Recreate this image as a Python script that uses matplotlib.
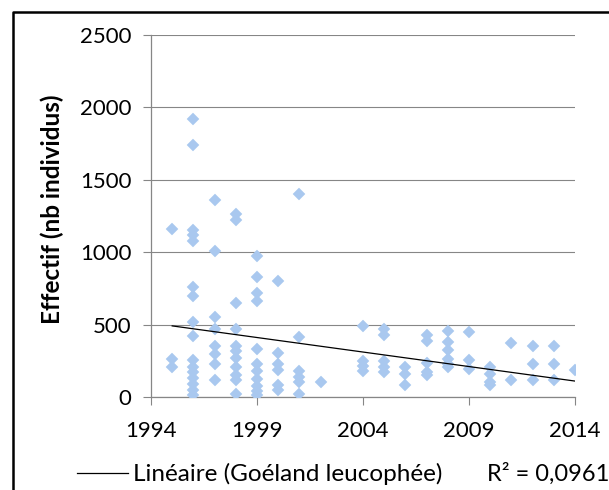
import matplotlib
matplotlib.use("Agg")
import matplotlib.pyplot as plt
from matplotlib.lines import Line2D

plt.rcParams['font.family'] = ['Lato', 'DejaVu Sans']

# Comptages annuels (Goéland leucophée), un point par site
years = (
    [1995] * 3
    + [1996] * 16
    + [1997] * 8
    + [1998] * 11
    + [1999] * 11
    + [2000] * 6
    + [2001] * 6
    + [2002] * 1
    + [2004] * 4
    + [2005] * 5
    + [2006] * 3
    + [2007] * 5
    + [2008] * 6
    + [2009] * 3
    + [2010] * 4
    + [2011] * 2
    + [2012] * 3
    + [2013] * 3
    + [2014] * 1
)
effectif = [
    1160, 260, 210,
    1920, 1740, 1155, 1120, 1075, 760, 695, 515, 420, 255, 210, 170, 130, 90, 50, 15,
    1360, 1010, 550, 470, 350, 295, 230, 115,
    1265, 1225, 650, 470, 355, 320, 270, 210, 150, 115, 20,
    975, 830, 715, 665, 330, 230, 180, 125, 75, 40, 15,
    800, 305, 225, 185, 85, 45,
    1400, 415, 180, 140, 105, 20,
    105,
    490, 250, 215, 180,
    470, 425, 250, 210, 170,
    205, 160, 85,
    425, 385, 235, 175, 155,
    455, 380, 325, 265, 225, 205,
    450, 255, 195,
    205, 160, 105, 80,
    375, 120,
    350, 225, 120,
    350, 225, 120,
    185,
]

# Courbe de tendance linéaire (extrémités)
trend_years = [1995, 2014]
trend_values = [491, 110]
r2_text = 'R² = 0,0961'

x_ticks = [1994, 1999, 2004, 2009, 2014]
y_ticks = [0, 500, 1000, 1500, 2000, 2500]

W, H = 609, 490
fig = plt.figure(figsize=(W / 100, H / 100), dpi=100)
ax = fig.add_axes([151 / W, 1 - 397 / H, 424 / W, 362 / H])

grey = '#868686'
blue = '#a9c8ef'

# Points
ax.plot(years, effectif, linestyle='none', marker='D', markersize=6.6,
        color=blue, markeredgecolor=blue, markeredgewidth=0.3, zorder=3)

# Tendance
trend, = ax.plot(trend_years, trend_values, color='black', linewidth=0.9,
                 label='Linéaire (Goéland leucophée)', zorder=4)

# Axes
ax.set_xlim(1994, 2014)
ax.set_ylim(0, 2500)
ax.set_xticks(x_ticks)
ax.set_yticks(y_ticks)
ax.yaxis.grid(True, color=grey, linewidth=0.8)
ax.set_axisbelow(True)
for side in ['top', 'right']:
    ax.spines[side].set_visible(False)
for side in ['left', 'bottom']:
    ax.spines[side].set_color(grey)
    ax.spines[side].set_linewidth(0.9)
ax.tick_params(axis='both', direction='out', length=6, width=0.8,
               color=grey, labelsize=16, labelcolor='black')
ax.tick_params(axis='y', pad=8)
ax.tick_params(axis='x', pad=11)

ax.set_ylabel('Effectif (nb individus)', fontsize=17.5, fontweight='bold')
ax.yaxis.set_label_coords(-0.205, 0.52)

# Légende + R²
fig.legend(handles=[trend], loc='center left',
           bbox_to_anchor=(77 / W, 1 - 474 / H), frameon=False,
           borderpad=0, borderaxespad=0, handlelength=2.1,
           handletextpad=0.2, fontsize=17.5)
fig.text(487 / W, 1 - 474 / H, r2_text, ha='left', va='center', fontsize=17)

# Cadre du graphique (bords gauche et haut visibles)
fig.add_artist(Line2D([13 / W, 13 / W, 1.0], [0.0, 1 - 12 / H, 1 - 12 / H],
                      transform=fig.transFigure, color='black', linewidth=1.8))

fig.savefig('out.png', dpi=100)
